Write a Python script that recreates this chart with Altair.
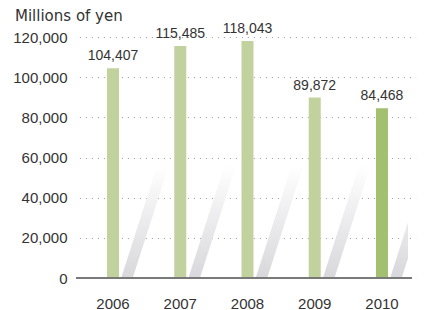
import altair as alt
import pandas as pd

years = ["2006", "2007", "2008", "2009", "2010"]
values = [104407, 115485, 118043, 89872, 84468]
highlight = [False, False, False, False, True]
y_ticks = [0, 20000, 40000, 60000, 80000, 100000, 120000]

df = pd.DataFrame({"year": years, "value": values, "hl": highlight})

FONT = "Liberation Sans"
TXT = "#333333"

xscale = alt.Scale(domain=years, range=[3.4, 339.6], paddingInner=0, paddingOuter=0)
yscale = alt.Scale(domain=[0, 120000], nice=False)

x_axis = alt.Axis(title=None, domain=False, ticks=False, labelAngle=0, labelAlign="center",
                  bandPosition=0.5, labelFontSize=15, labelColor=TXT, labelFont=FONT,
                  labelPadding=18, grid=False)
y_axis = alt.Axis(title=None, domain=False, ticks=False, values=y_ticks,
                  labelExpr="datum.value == 0 ? '0' : floor(datum.value / 1000) + ',000'",
                  labelFontSize=15, labelColor=TXT,
                  labelFont=FONT, labelPadding=9, grid=True,
                  gridColor="#9a9a9a", gridDash=[1, 5], gridWidth=1)

base = alt.Chart(df)

shadow = base.transform_calculate(
    s0="-3000", s1="56000"
).mark_rule(
    strokeWidth=11, strokeCap="butt", clip=True, xOffset=12, x2Offset=50,
    color={"gradient": "linear", "x1": 0, "y1": 1, "x2": 0, "y2": 0,
           "stops": [{"offset": 0, "color": "#d6d6da"},
                     {"offset": 0.55, "color": "#ececee"},
                     {"offset": 1, "color": "#ffffff"}]}
).encode(
    x=alt.X("year:N", scale=xscale, sort=years, axis=x_axis),
    x2="year:N",
    y=alt.Y("s0:Q", scale=yscale, axis=y_axis),
    y2="s1:Q",
)

bars = base.mark_bar(size=12).encode(
    x=alt.X("year:N", scale=xscale, sort=years, axis=x_axis),
    y=alt.Y("value:Q", scale=yscale, axis=y_axis),
    color=alt.condition(alt.datum.hl, alt.value("#a3bf70"), alt.value("#c2d29f")),
)

labels = base.mark_text(baseline="bottom", dy=-5, fontSize=14, font=FONT, color=TXT).encode(
    x=alt.X("year:N", scale=xscale, sort=years),
    y=alt.Y("value:Q", scale=yscale),
    text=alt.Text("value:Q", format=","),
)

baseline = base.mark_rule(color="#7a7a7a", strokeWidth=1.5).encode(
    x=alt.value(0), x2=alt.value(336), y=alt.value(241)
)

chart = alt.layer(shadow, bars, labels, baseline).properties(
    width=332, height=241,
    autosize=alt.AutoSizeParams(type="none"),
    padding={"left": 68, "top": 29, "right": 20, "bottom": 32},
    title=alt.TitleParams("Millions of yen", anchor="start", frame="group", dx=-61,
                          fontSize=15, font="DejaVu Sans", fontWeight="normal",
                          color=TXT, offset=-2),
).configure_view(stroke=None)

chart.save("out.html", embed_options={"renderer": "svg", "actions": False})
